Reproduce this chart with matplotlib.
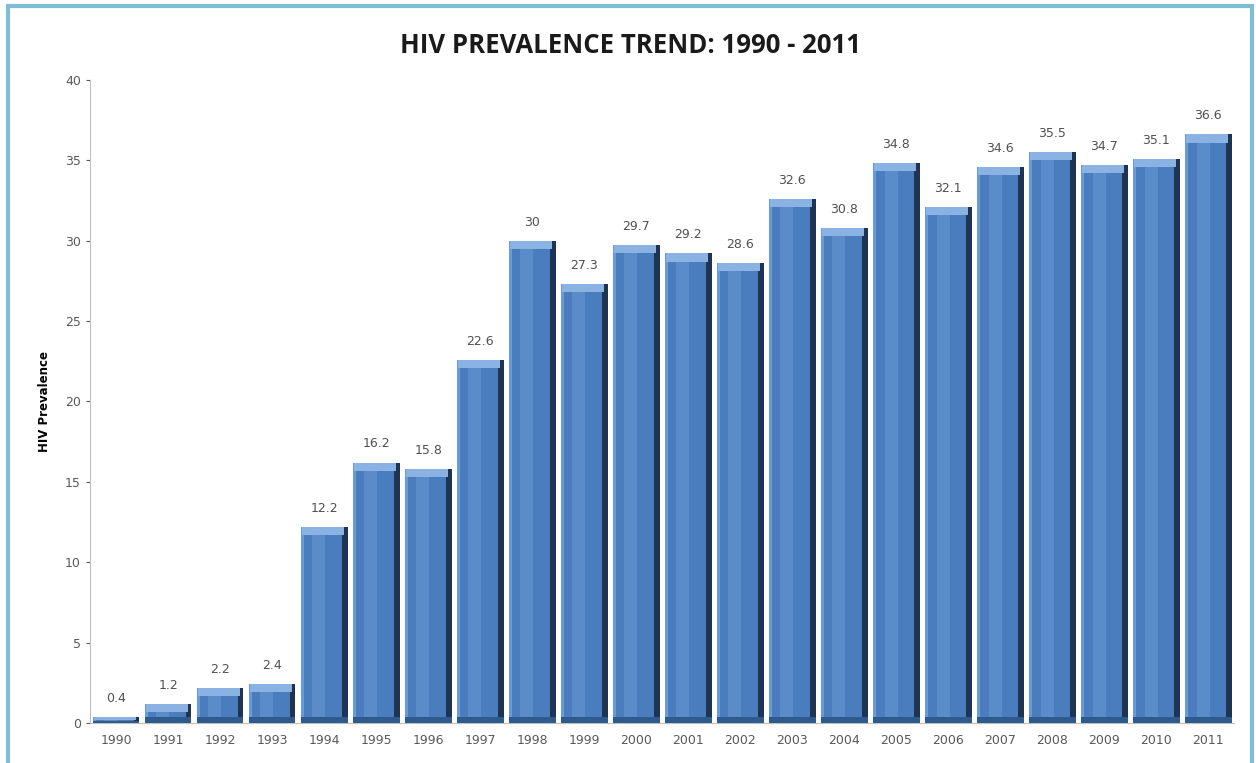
import numpy as np
import matplotlib.pyplot as plt
from matplotlib.patches import Rectangle

# data
years = [str(y) for y in range(1990, 2012)]
prevalence = [0.4, 1.2, 2.2, 2.4, 12.2, 16.2, 15.8, 22.6, 30, 27.3, 29.7,
              29.2, 28.6, 32.6, 30.8, 34.8, 32.1, 34.6, 35.5, 34.7, 35.1, 36.6]
y_ticks = [0, 5, 10, 15, 20, 25, 30, 35, 40]

fig = plt.figure(figsize=(12.56, 7.63), dpi=100)
fig.set_facecolor("white")

# light blue frame around the chart
fig.patches.append(Rectangle((0.0065, -0.02), 0.99, 1.012, transform=fig.transFigure,
                             fill=False, edgecolor="#7fbcd6", linewidth=3))

ax = fig.add_axes([0.0717, 0.0524, 0.911, 0.843])
x = np.arange(len(years))
vals = np.array(prevalence)
w = 0.9

# main bar body
ax.bar(x, vals, width=w, color="#4a7dbd", edgecolor="none", zorder=2)
# dark right side of the bevel
ax.bar(x + w / 2 - 0.05, vals, width=0.1, color="#1c3556", edgecolor="none", zorder=3)
# light left side
ax.bar(x - w / 2 + 0.03, vals, width=0.06, color="#6f9ad0", edgecolor="none", zorder=3)
# inner stripe for the shading
ax.bar(x - 0.1, vals, width=0.25, color="#5a8cca", edgecolor="none", zorder=2.5)
# top bevel
top_h = np.minimum(0.5, vals * 0.5)
ax.bar(x - 0.02, top_h, bottom=vals - top_h, width=w - 0.1, color="#8ab2e2",
       edgecolor="none", zorder=4)
# bottom bevel
ax.bar(x, np.minimum(0.35, vals * 0.3), width=w, color="#2f5a8e", edgecolor="none", zorder=3.5)

for xi, v in zip(x, vals):
    ax.text(xi, v + 0.75, f"{v:g}", ha="center", va="bottom", fontsize=9,
            color="#505050", family="DejaVu Sans")

ax.set_xlim(-0.5, len(years) - 0.5)
ax.set_ylim(0, 40)
ax.set_yticks(y_ticks)
ax.set_xticks(x)
ax.set_xticklabels(years)
ax.tick_params(axis="both", colors="#595959", labelsize=9, length=3)
ax.tick_params(axis="x", length=0, pad=8)
for side in ["top", "right"]:
    ax.spines[side].set_visible(False)
ax.spines["left"].set_color("#bfbfbf")
ax.spines["bottom"].set_color("#bfbfbf")

ax.set_ylabel("HIV Prevalence", fontsize=8.5, fontweight="bold", color="black", labelpad=10)

fig.text(0.502, 0.94, "HIV PREVALENCE TREND: 1990 - 2011", ha="center", va="center",
         fontsize=18.5, fontweight="bold", color="#1a1a1a", family="Open Sans")

fig.savefig("out.png", dpi=100)
